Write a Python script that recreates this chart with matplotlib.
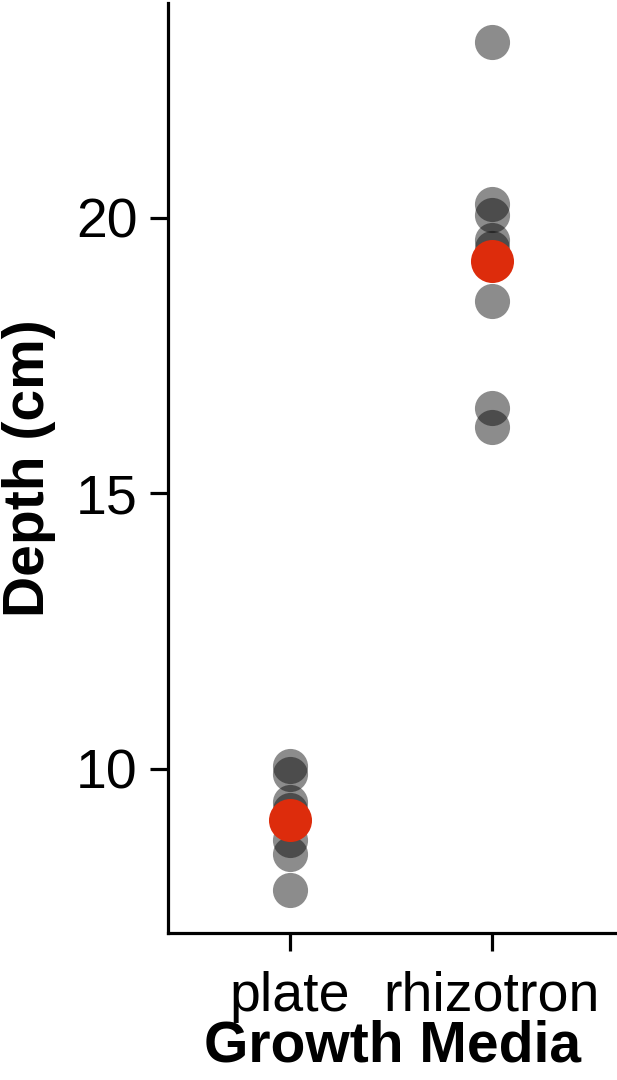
#!/usr/bin/env python3
"""Rooting depth by growth media: individual plants plus group mean."""

import numpy as np
import matplotlib
matplotlib.use("Agg")
import matplotlib.pyplot as plt

plt.rcParams['font.family'] = ['Liberation Sans', 'DejaVu Sans']

# data
media = ['plate', 'rhizotron']
plate_depth = [10.05, 9.9, 9.4, 9.25, 8.7, 8.45, 7.8]
rhizotron_depth = [23.2, 20.25, 20.05, 19.6, 19.45, 18.5, 16.55, 16.2]
y_ticks = [10, 15, 20]

groups = [plate_depth, rhizotron_depth]
means = [np.mean(g) for g in groups]

fig = plt.figure(figsize=(6.17, 10.8), dpi=100)
ax = fig.add_axes([0.2723, 0.1361, 0.7277, 0.8611])

for i, vals in enumerate(groups):
    ax.scatter([i + 1] * len(vals), vals, s=640, color='black', alpha=0.45,
               linewidths=0, zorder=2)
ax.scatter([1, 2], means, s=960, color='#dd2c0c', linewidths=0, zorder=3)

ax.set_xlim(0.396, 2.62)
ax.set_ylim(7.02, 23.9)
ax.set_xticks([1, 2])
ax.set_xticklabels(media)
ax.set_yticks(y_ticks)

for side in ['top', 'right']:
    ax.spines[side].set_visible(False)
for side in ['left', 'bottom']:
    ax.spines[side].set_linewidth(2.3)

ax.tick_params(axis='both', direction='out', length=13, width=2.3,
               labelsize=40, colors='black')
ax.tick_params(axis='y', pad=9)
ax.tick_params(axis='x', pad=14)

ax.set_xlabel('Growth Media', fontsize=41, fontweight='bold', labelpad=-2)
ax.set_ylabel('Depth (cm)', fontsize=41, fontweight='bold', labelpad=14)

fig.savefig('out.png', dpi=100)
